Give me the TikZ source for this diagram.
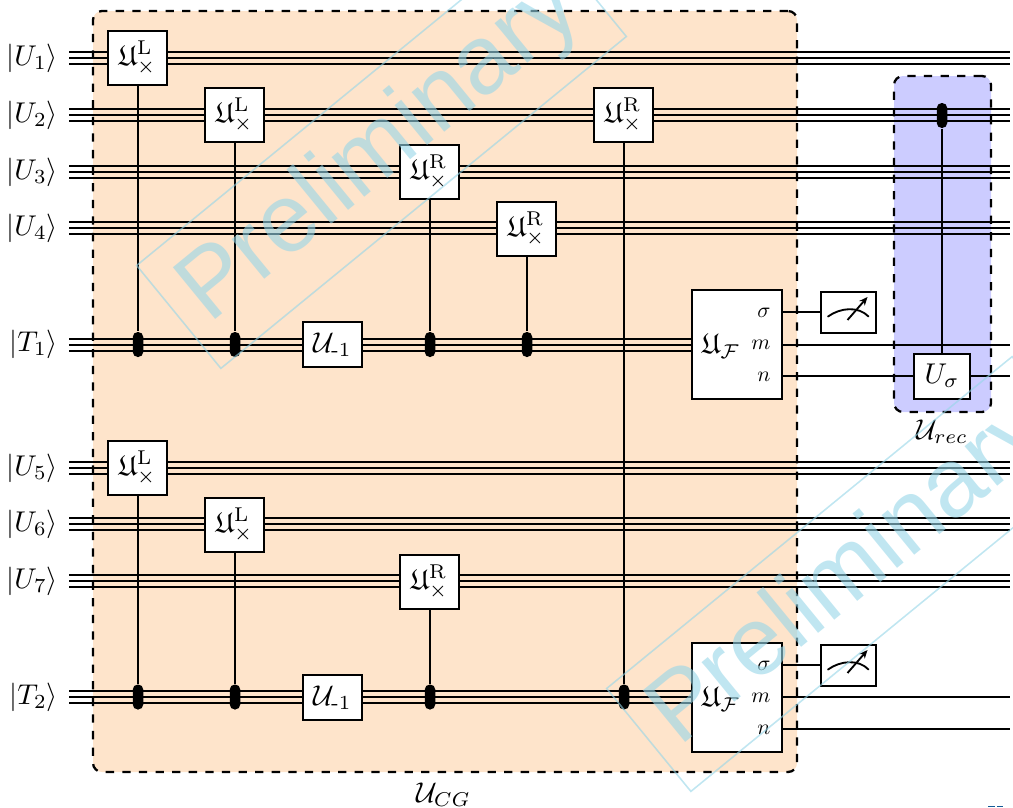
\documentclass[tikz,border=0pt]{standalone}
\usepackage{amsmath,amssymb,amsfonts}
\usepackage{fontspec}
\newfontfamily\wmfont{Liberation Sans}
\usetikzlibrary{arrows.meta}
\definecolor{cgfill}{RGB}{254,228,203}
\definecolor{recfill}{RGB}{204,204,255}
\definecolor{wm}{RGB}{150,214,232}
\definecolor{markblue}{RGB}{20,90,150}
\newcommand{\uu}{0.35pt}
\newcommand{\ketl}[1]{$|#1\rangle$}
\newcommand{\gL}{$\mathfrak{U}^{\mathrm{L}}_{\times}$}
\newcommand{\gR}{$\mathfrak{U}^{\mathrm{R}}_{\times}$}
\newcommand{\gI}{$\mathcal{U}_{\text{-}1}$}
\newcommand{\triplewire}[2]{%
  \draw[wire] ([yshift=6*\uu]#1) -- ([yshift=6*\uu]#2);
  \draw[wire] (#1) -- (#2);
  \draw[wire] ([yshift=-6*\uu]#1) -- ([yshift=-6*\uu]#2);}
\newcommand{\meterdial}[1]{%
  \draw[line width=0.65pt,line cap=round] ([shift={(-20.5*\uu,-4.5*\uu)}]#1.center) .. controls ([shift={(-8*\uu,4.5*\uu)}]#1.center) and ([shift={(10*\uu,6*\uu)}]#1.center) .. ([shift={(20*\uu,-4.5*\uu)}]#1.center);
  \draw[line width=0.65pt,-{Stealth[length=6*\uu*1.4,width=6*\uu*1.2]}] ([shift={(-1*\uu,-8*\uu)}]#1.center) -- ([shift={(19*\uu,15*\uu)}]#1.center);}
\tikzset{
  x=\uu,y=-\uu,
  wire/.style={line width=0.55pt,black},
  ctrlline/.style={line width=0.55pt,black},
  gatebox/.style={draw=black,fill=white,line width=0.7pt,inner sep=0pt,minimum width=59*\uu,minimum height=54*\uu},
  invbox/.style={gatebox,minimum height=45*\uu},
  fbox/.style={gatebox,minimum width=90*\uu,minimum height=109*\uu},
  meterbox/.style={gatebox,minimum width=55*\uu,minimum height=41*\uu},
  sigbox/.style={gatebox,minimum width=56*\uu,minimum height=45*\uu},
  blob/.style={fill=black,inner sep=0pt,minimum width=10.5*\uu,minimum height=25*\uu,rounded corners=5*\uu},
  region/.style={draw=black,dash pattern=on 8.3*\uu off 8.3*\uu,line width=0.8pt,rounded corners=9*\uu,inner sep=0pt},
  outlab/.style={anchor=east,inner sep=0pt},
  ketlab/.style={anchor=east,inner sep=0pt},
  wmark/.style={draw=wm,fill=none,text=wm,opacity=0.6,line width=0.55pt,rotate=39.3,inner sep=0pt,minimum width=524*\uu,minimum height=133*\uu,font=\fontsize{34}{34}\selectfont\wmfont},
}
\newcommand{\olab}[1]{\scalebox{0.76}{$#1$}}
\begin{document}
\begin{tikzpicture}
\useasboundingbox (0,0) rectangle (1013,807);
% regions
\node[region,fill=cgfill,minimum width=704*\uu,minimum height=761*\uu] (cg) at (445,391.5) {};
\node[region,fill=recfill,minimum width=97*\uu,minimum height=336*\uu] (rec) at (942.5,244) {};
% wire ends
\foreach \n/\yy in {1/58,2/115,3/172,4/228,5/468,6/524,7/581}{
  \coordinate (ls\n) at (69,\yy);
  \coordinate (rs\n) at (1010,\yy);
}
\coordinate (lt1) at (69,345);
\coordinate (rt1) at (692,345);
\coordinate (lt2) at (69,697);
\coordinate (rt2) at (692,697);
\coordinate (rm1) at (1010,345);
\coordinate (rn1) at (1010,376);
\coordinate (rm2) at (1010,697);
\coordinate (rn2) at (1010,729);
% labels
\node[ketlab] (ku1) at (58.5,58) {\ketl{U_1}};
\node[ketlab] (ku2) at (58.5,115) {\ketl{U_2}};
\node[ketlab] (ku3) at (58.5,172) {\ketl{U_3}};
\node[ketlab] (ku4) at (58.5,228) {\ketl{U_4}};
\node[ketlab] (kt1) at (58.5,344) {\ketl{T_1}};
\node[ketlab] (ku5) at (58.5,468) {\ketl{U_5}};
\node[ketlab] (ku6) at (58.5,524) {\ketl{U_6}};
\node[ketlab] (ku7) at (58.5,581) {\ketl{U_7}};
\node[ketlab] (kt2) at (58.5,697) {\ketl{T_2}};
% triple wires
\foreach \n in {1,...,7}{\triplewire{ls\n}{rs\n}}
\triplewire{lt1}{rt1}
\triplewire{lt2}{rt2}
% control blobs
\node[blob] (c1) at (138,344.5) {};
\node[blob] (c2) at (235,344.5) {};
\node[blob] (c3) at (430,344.5) {};
\node[blob] (c4) at (527,344.5) {};
\node[blob] (c5) at (138,697) {};
\node[blob] (c6) at (235,697) {};
\node[blob] (c7) at (430,697) {};
\node[blob] (c8) at (624,697) {};
\node[blob] (c9) at (942,115.5) {};
% gates
\node[gatebox] (g1) at (137.5,58) {\gL};
\node[gatebox] (g2) at (234.5,115) {\gL};
\node[gatebox] (g3) at (429.5,172) {\gR};
\node[gatebox] (g4) at (526.5,229) {\gR};
\node[gatebox] (g5) at (623.5,115) {\gR};
\node[invbox] (inv1) at (332.5,344.5) {\gI};
\node[gatebox] (g6) at (137.5,468) {\gL};
\node[gatebox] (g7) at (234.5,525) {\gL};
\node[gatebox] (g8) at (429.5,582) {\gR};
\node[invbox] (inv2) at (332.5,697.5) {\gI};
% control lines
\draw[ctrlline] (g1.south -| c1) -- (c1);
\draw[ctrlline] (g2.south -| c2) -- (c2);
\draw[ctrlline] (g3.south -| c3) -- (c3);
\draw[ctrlline] (g4.south -| c4) -- (c4);
\draw[ctrlline] (g5.south -| c8) -- (c8);
\draw[ctrlline] (g6.south -| c5) -- (c5);
\draw[ctrlline] (g7.south -| c6) -- (c6);
\draw[ctrlline] (g8.south -| c7) -- (c7);
% readout blocks
\node[fbox] (f1) at (737,344.5) {};
\node[fbox] (f2) at (737,697.5) {};
\node[inner sep=0pt] (f1t) at (721,346) {$\mathfrak{U}_{\mathcal{F}}$};
\node[inner sep=0pt] (f2t) at (721,699) {$\mathfrak{U}_{\mathcal{F}}$};
\node[outlab] (s1) at (771,313) {\olab{\sigma}};
\node[outlab] (m1) at (771,345) {\olab{m}};
\node[outlab] (n1) at (771,377) {\olab{n}};
\node[outlab] (s2) at (771,666) {\olab{\sigma}};
\node[outlab] (m2) at (771,698) {\olab{m}};
\node[outlab] (n2) at (771,730) {\olab{n}};
% meters
\node[meterbox] (mt1) at (848.5,312) {};
\node[meterbox] (mt2) at (848.5,665) {};
\meterdial{mt1}
\meterdial{mt2}
% recovery gate
\node[sigbox] (us) at (942,376) {$U_\sigma$};
% classical outputs
\draw[wire] (f1.east |- mt1) -- (mt1.west);
\draw[wire] (f2.east |- mt2) -- (mt2.west);
\draw[wire,line width=0.7pt] (f1.east |- rm1) -- (rm1);
\draw[wire,line width=0.7pt] (f2.east |- rm2) -- (rm2);
\draw[wire] (f1.east |- us) -- (us.west);
\draw[wire] (us.east) -- (rn1);
\draw[wire] (f2.east |- rn2) -- (rn2);
\draw[ctrlline] (c9) -- (us.north -| c9);
% region labels
\node[inner sep=0pt] (lcg) at (443.5,795) {$\mathcal{U}_{CG}$};
\node[inner sep=0pt] (lrec) at (942,432) {$\mathcal{U}_{rec}$};
% watermarks
\node[wmark] (w1) at (381.5,151) {Preliminary};
\node[wmark] (w2) at (851.5,574) {Preliminary};
% page-edge marks
\coordinate (ma) at (988,806.3);
\coordinate (mb) at (995,806.3);
\coordinate (mc) at (997,806.3);
\coordinate (md) at (1003,806.3);
\draw[markblue,line width=0.35pt] (ma) -- (mb);
\draw[markblue,line width=0.35pt] (mc) -- (md);
\end{tikzpicture}
\end{document}
